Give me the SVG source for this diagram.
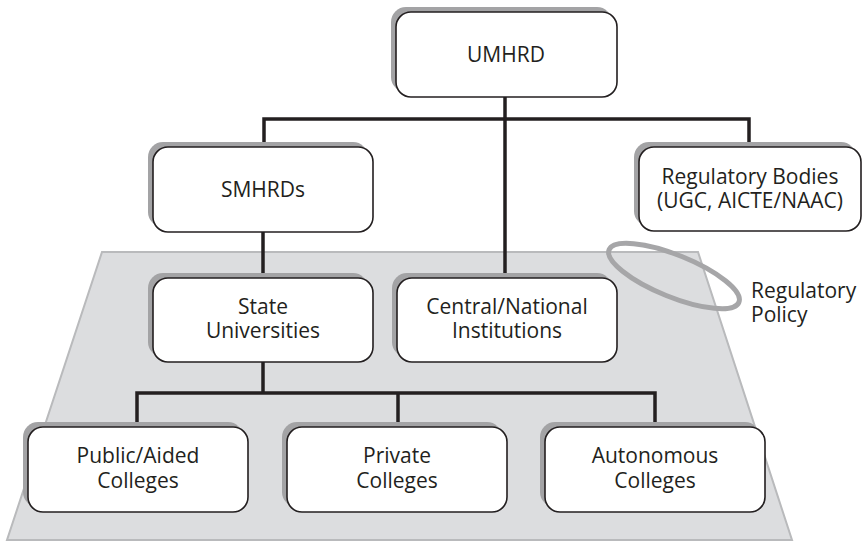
<svg xmlns="http://www.w3.org/2000/svg" width="865" height="542" viewBox="0 0 865 542">
  <defs>
    <style>
      .shadow { fill: #a3a3a5; }
      .box { fill: #ffffff; stroke: #231f20; stroke-width: 1.6; }
      .lbl { font-family: "Open Sans", "Noto Sans", sans-serif; font-size: 21px; fill: #231f20; text-anchor: middle; }
      .side { font-family: "Open Sans", "Noto Sans", sans-serif; font-size: 21px; fill: #231f20; }
      .link { fill: none; stroke: #231f20; stroke-width: 3.5; stroke-linejoin: miter; }
    </style>
  </defs>
  <rect width="865" height="542" fill="#ffffff"/>

  <!-- institutional plane -->
  <polygon points="102,252 698,252 792,540 7,540" fill="#dcdddf" stroke="#b9babc" stroke-width="2"/>

  <!-- connectors -->
  <g id="connectors">
    <path class="link" d="M505,97 V278"/>
    <path class="link" d="M264,147 V119 H749 V147"/>
    <path class="link" d="M263,232 V278"/>
    <path class="link" d="M263,362 V393"/>
    <path class="link" d="M137,427 V393 H655 V427"/>
    <path class="link" d="M398,393 V427"/>
  </g>

  <!-- regulatory policy ring -->
  <g id="policy">
    <ellipse cx="674" cy="276" rx="70" ry="21" transform="rotate(22 674 276)" fill="none" stroke="#a6a6a8" stroke-width="5"/>
    <text class="side" x="751" y="298">Regulatory</text>
    <text class="side" x="751" y="322">Policy</text>
  </g>

  <g id="umhrd">
    <rect class="shadow" x="391" y="7" width="221" height="85" rx="15"/>
    <rect class="box" x="396" y="12" width="221" height="85" rx="15"/>
    <text class="lbl" x="506" y="62">UMHRD</text>
  </g>

  <g id="smhrds">
    <rect class="shadow" x="148" y="142" width="220" height="85" rx="15"/>
    <rect class="box" x="153" y="147" width="220" height="85" rx="15"/>
    <text class="lbl" x="263" y="197">SMHRDs</text>
  </g>

  <g id="regulatory-bodies">
    <rect class="shadow" x="634" y="142" width="222" height="84" rx="15"/>
    <rect class="box" x="639" y="147" width="222" height="84" rx="15"/>
    <text class="lbl" x="750" y="184">Regulatory Bodies</text>
    <text class="lbl" x="750" y="208">(UGC, AICTE/NAAC)</text>
  </g>

  <g id="state-universities">
    <rect class="shadow" x="148" y="273" width="220" height="84" rx="15"/>
    <rect class="box" x="153" y="278" width="220" height="84" rx="15"/>
    <text class="lbl" x="263" y="314">State</text>
    <text class="lbl" x="263" y="338">Universities</text>
  </g>

  <g id="central-institutions">
    <rect class="shadow" x="392" y="273" width="220" height="84" rx="15"/>
    <rect class="box" x="397" y="278" width="220" height="84" rx="15"/>
    <text class="lbl" x="507" y="314">Central/National</text>
    <text class="lbl" x="507" y="338">Institutions</text>
  </g>

  <g id="public-colleges">
    <rect class="shadow" x="23" y="422" width="220" height="85" rx="15"/>
    <rect class="box" x="28" y="427" width="220" height="85" rx="15"/>
    <text class="lbl" x="138" y="463">Public/Aided</text>
    <text class="lbl" x="138" y="488">Colleges</text>
  </g>

  <g id="private-colleges">
    <rect class="shadow" x="282" y="422" width="220" height="85" rx="15"/>
    <rect class="box" x="287" y="427" width="220" height="85" rx="15"/>
    <text class="lbl" x="397" y="463">Private</text>
    <text class="lbl" x="397" y="488">Colleges</text>
  </g>

  <g id="autonomous-colleges">
    <rect class="shadow" x="540" y="422" width="220" height="85" rx="15"/>
    <rect class="box" x="545" y="427" width="220" height="85" rx="15"/>
    <text class="lbl" x="655" y="463">Autonomous</text>
    <text class="lbl" x="655" y="488">Colleges</text>
  </g>
</svg>
